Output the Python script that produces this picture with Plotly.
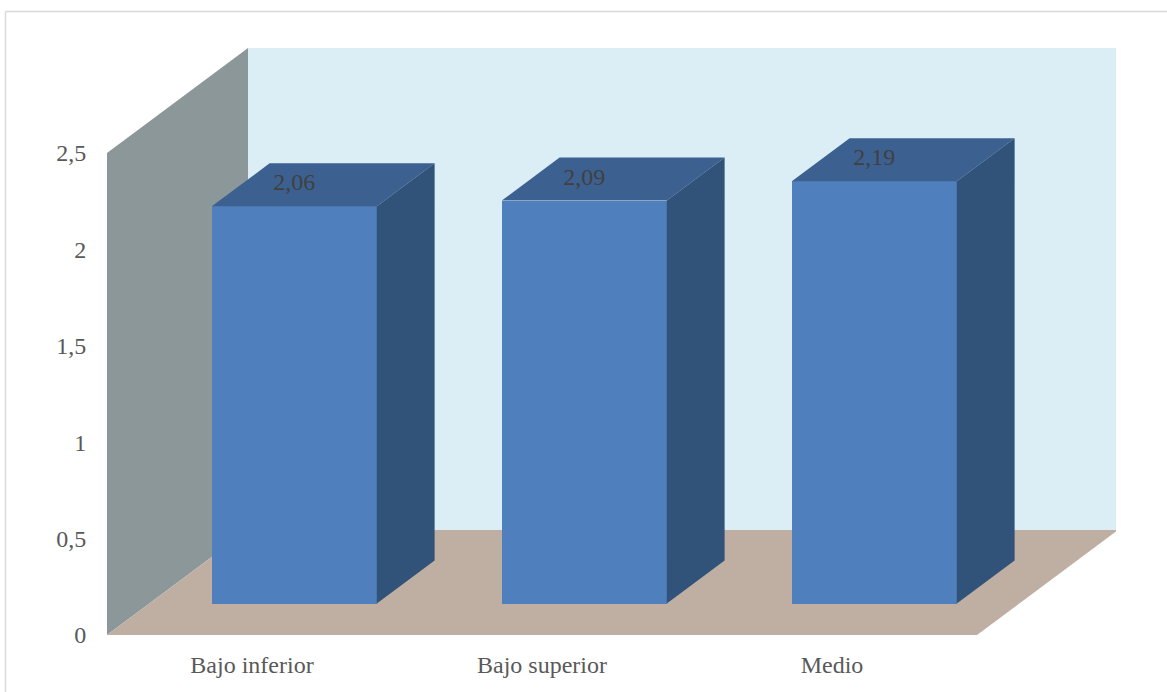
import plotly.graph_objects as go

categories = ["Bajo inferior", "Bajo superior", "Medio"]
values = [2.06, 2.09, 2.19]
y_ticks = [0, 0.5, 1, 1.5, 2, 2.5]
y_tick_labels = ["0", "0,5", "1", "1,5", "2", "2,5"]

W, H = 1167, 692
L, R, T, B = 107, 1116, 46, 635
PX_X, PX_Y = 290.0, 192.8
FONT = "Liberation Serif"

DX, DY = 141 / PX_X, 105 / PX_Y        # full depth of the chart box in data units
D0, D1 = 0.30, 0.71                    # bar front / back as a fraction of depth
HALF = 82.5 / PX_X
X0 = -0.5
XTOP = X0 + (R - L) / PX_X
YTOP = (B - T) / PX_Y
Y_MAX = 2.5
X_MAX = 2.5


def proj(x, y, d):
    return x + d * DX, y + d * DY


def path(points):
    return "M" + " L".join(f"{a},{b}" for a, b in points) + " Z"


def poly(points, color):
    xs, ys = zip(*points)
    return go.Scatter(x=list(xs) + [xs[0]], y=list(ys) + [ys[0]], mode="lines",
                      fill="toself", fillcolor=color, line=dict(width=0),
                      hoverinfo="skip", showlegend=False)


fig = go.Figure()

walls = [
    ([proj(X0, 0, 1), proj(X_MAX, 0, 1), proj(X_MAX, Y_MAX, 1), proj(X0, Y_MAX, 1)], "#DBEEF5"),
    ([proj(X0, 0, 0), proj(X0, 0, 1), proj(X0, Y_MAX, 1), proj(X0, Y_MAX, 0)], "#8C9799"),
    ([proj(X0, 0, 0), proj(X_MAX, 0, 0), proj(X_MAX, 0, 1), proj(X0, 0, 1)], "#BFAFA2"),
]
shapes = [dict(type="path", path=path(p), fillcolor=c, line=dict(width=0),
               layer="below", xref="x", yref="y") for p, c in walls]
# outer chart frame
frame = "#D9D9D9"
shapes.append(dict(type="line", xref="paper", yref="paper", layer="below",
                   x0=(5.5 - L) / (R - L), x1=(W - L) / (R - L),
                   y0=(B - 11.5) / (B - T), y1=(B - 11.5) / (B - T),
                   line=dict(color=frame, width=1.5)))
shapes.append(dict(type="line", xref="paper", yref="paper", layer="below",
                   x0=(5.5 - L) / (R - L), x1=(5.5 - L) / (R - L),
                   y0=(B - 11.5) / (B - T), y1=(B - H) / (B - T),
                   line=dict(color=frame, width=1.5)))

# front faces
fx = [i + D0 * DX for i in range(len(values))]
fig.add_trace(go.Bar(x=fx, y=values, base=[D0 * DY] * len(values), width=2 * HALF,
                     marker=dict(color="#4F7FBC", line=dict(width=0)),
                     hoverinfo="skip", showlegend=False))

for i, v in enumerate(values):
    xl, xr = i - HALF, i + HALF
    # top face
    fig.add_trace(poly([proj(xl, v, D0), proj(xr, v, D0), proj(xr, v, D1), proj(xl, v, D1)], "#3C6090"))
    # side face
    fig.add_trace(poly([proj(xr, 0, D0), proj(xr, 0, D1), proj(xr, v, D1), proj(xr, v, D0)], "#315279"))

# data labels, sitting on the top face
fig.add_trace(go.Scatter(
    x=fx, y=[v + D0 * DY + 22 / PX_Y for v in values], mode="text",
    text=[f"{v:.2f}".replace(".", ",") for v in values],
    textposition="middle center",
    textfont=dict(family=FONT, size=24, color="#404040"),
    hoverinfo="skip", showlegend=False))

fig.update_layout(
    width=W, height=H, autosize=False,
    margin=dict(l=L, r=W - R, t=T, b=H - B, pad=0),
    paper_bgcolor="white", plot_bgcolor="white",
    shapes=shapes, bargap=0, showlegend=False,
    xaxis=dict(range=[X0, XTOP], tickmode="array", tickvals=list(range(len(categories))),
               ticktext=categories, showgrid=False, zeroline=False, showline=False,
               automargin=False,
               ticks="outside", ticklen=8, tickcolor="rgba(0,0,0,0)",
               tickfont=dict(family=FONT, size=24, color="#595959")),
    yaxis=dict(range=[0, YTOP], tickmode="array", tickvals=y_ticks, ticktext=y_tick_labels,
               showgrid=False, zeroline=False, showline=False,
               automargin=False,
               ticks="outside", ticklen=15, tickcolor="rgba(0,0,0,0)",
               tickfont=dict(family=FONT, size=24, color="#595959")),
)

fig.write_html("out.html", config=dict(displayModeBar=False),
               post_script="document.body.style.margin='0';document.body.style.overflow='hidden';")
